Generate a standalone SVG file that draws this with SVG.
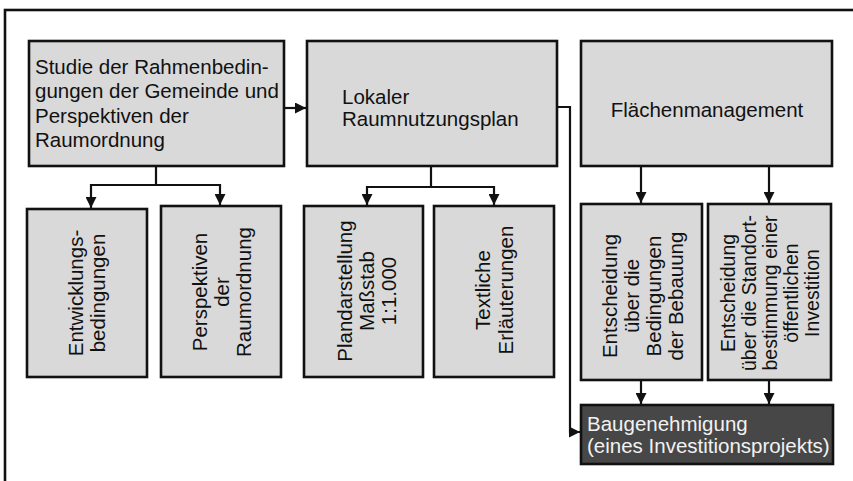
<svg xmlns="http://www.w3.org/2000/svg" width="853" height="481" viewBox="0 0 853 481">
<style>
.box{fill:#d9d9d9;stroke:#111;stroke-width:2.6}
.dark{fill:#474747;stroke:#111;stroke-width:2.6}
.t{font-family:"Liberation Sans",Arial,sans-serif;font-size:20.5px;fill:#111}
.tw{font-family:"Liberation Sans",Arial,sans-serif;font-size:20.5px;fill:#f2f2f2}
.c{text-anchor:middle}
.ln{fill:none;stroke:#111;stroke-width:2.2}
</style>
<defs>
<marker id="ah" viewBox="0 0 10 10" refX="10" refY="5" markerWidth="5" markerHeight="5" markerUnits="strokeWidth" orient="auto">
<path d="M0,0 L10,5 L0,10 Z" fill="#111"/>
</marker>
</defs>
<rect x="5" y="10" width="880" height="500" fill="#fff" stroke="#111" stroke-width="2.6"/>

<g id="connectors">
<path class="ln" d="M284,108 H306" marker-end="url(#ah)"/>
<path class="ln" d="M557,107 H570 V432 H580" marker-end="url(#ah)"/>
<path class="ln" d="M156,166 V185 M91,185 H220"/>
<path class="ln" d="M91,184 V208" marker-end="url(#ah)"/>
<path class="ln" d="M220,184 V205" marker-end="url(#ah)"/>
<path class="ln" d="M431,166 V187 M367,187 H494"/>
<path class="ln" d="M367,186 V205" marker-end="url(#ah)"/>
<path class="ln" d="M494,186 V205" marker-end="url(#ah)"/>
<path class="ln" d="M641,166 V203" marker-end="url(#ah)"/>
<path class="ln" d="M769,166 V203" marker-end="url(#ah)"/>
<path class="ln" d="M641,380 V404" marker-end="url(#ah)"/>
<path class="ln" d="M769,380 V404" marker-end="url(#ah)"/>
</g>

<g id="studie">
<rect class="box" x="29" y="41" width="255" height="125"/>
<text class="t" x="35" y="73.5">Studie der Rahmenbedin-<tspan x="35" dy="24.5">gungen der Gemeinde und</tspan><tspan x="35" dy="24.5">Perspektiven der</tspan><tspan x="35" dy="24.5">Raumordnung</tspan></text>
</g>

<g id="lokaler">
<rect class="box" x="307" y="41" width="250" height="125"/>
<text class="t" x="342" y="104">Lokaler<tspan x="342" dy="22">Raumnutzungsplan</tspan></text>
</g>

<g id="flaechen">
<rect class="box" x="581" y="41" width="251" height="125"/>
<text class="t c" x="707" y="117">Flächenmanagement</text>
</g>

<g id="entwicklung">
<rect class="box" x="27" y="209" width="120" height="168"/>
<text class="t c" transform="translate(87,293) rotate(-90)" x="0" y="-4">Entwicklungs-<tspan x="0" dy="22">bedingungen</tspan></text>
</g>

<g id="perspektiven">
<rect class="box" x="161" y="206" width="120" height="171"/>
<text class="t c" transform="translate(221,292) rotate(-90)" x="0" y="-14">Perspektiven<tspan x="0" dy="22">der</tspan><tspan x="0" dy="22">Raumordnung</tspan></text>
</g>

<g id="plan">
<rect class="box" x="304" y="206" width="119" height="171"/>
<text class="t c" transform="translate(363.5,291) rotate(-90)" x="0" y="-11.5">Plandarstellung<tspan x="0" dy="22">Maßstab</tspan><tspan x="0" dy="22">1:1.000</tspan></text>
</g>

<g id="textliche">
<rect class="box" x="434" y="206" width="120" height="171"/>
<text class="t c" transform="translate(494,290) rotate(-90)" x="0" y="-4">Textliche<tspan x="0" dy="23">Erläuterungen</tspan></text>
</g>

<g id="bebauung">
<rect class="box" x="581" y="204" width="121" height="176"/>
<text class="t c" transform="translate(641.5,296) rotate(-90)" x="0" y="-24.5">Entscheidung<tspan x="0" dy="22">über die</tspan><tspan x="0" dy="22">Bedingungen</tspan><tspan x="0" dy="22">der Bebauung</tspan></text>
</g>

<g id="standort">
<rect class="box" x="708" y="204" width="123" height="176"/>
<text class="t c" style="font-size:19.5px" transform="translate(769.5,293) rotate(-90)" x="0" y="-34.5">Entscheidung<tspan x="0" dy="21">über die Standort-</tspan><tspan x="0" dy="21">bestimmung einer</tspan><tspan x="0" dy="21">öffentlichen</tspan><tspan x="0" dy="21">Investition</tspan></text>
</g>

<g id="baugenehmigung">
<rect class="dark" x="581" y="405" width="252" height="59"/>
<text class="tw" x="587" y="431">Baugenehmigung<tspan x="587" dy="22">(eines Investitionsprojekts)</tspan></text>
</g>
</svg>
